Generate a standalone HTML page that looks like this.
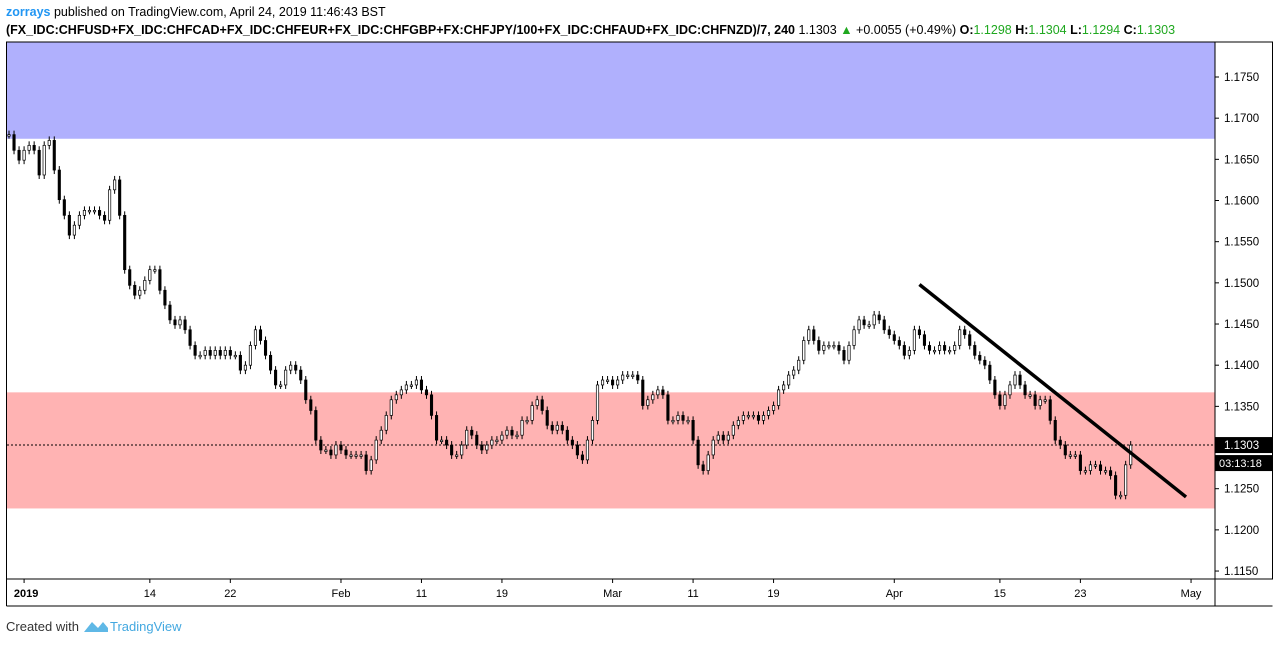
<!DOCTYPE html>
<html><head><meta charset="utf-8"><style>
body{margin:0;background:#fff;width:1273px;height:643px;overflow:hidden;font-family:"Liberation Sans",sans-serif}
</style></head><body>
<svg id="c" width="1273" height="643" xmlns="http://www.w3.org/2000/svg" font-family="Liberation Sans, sans-serif">
<text x="6" y="16" font-size="12.5" fill="#000"><tspan fill="#2196f3" font-weight="bold">zorrays</tspan> published on TradingView.com, April 24, 2019 11:46:43 BST</text>
<text x="6" y="34" font-size="12.5" fill="#000" font-weight="bold">(FX_IDC:CHFUSD+FX_IDC:CHFCAD+FX_IDC:CHFEUR+FX_IDC:CHFGBP+FX:CHFJPY/100+FX_IDC:CHFAUD+FX_IDC:CHFNZD)/7, 240 <tspan font-weight="normal">1.1303 </tspan><tspan fill="#1fa81f">▲</tspan><tspan font-weight="normal"> +0.0055 (+0.49%) </tspan>O:<tspan fill="#1fa81f" font-weight="normal">1.1298</tspan> H:<tspan fill="#1fa81f" font-weight="normal">1.1304</tspan> L:<tspan fill="#1fa81f" font-weight="normal">1.1294</tspan> C:<tspan fill="#1fa81f" font-weight="normal">1.1303</tspan></text>
<g id="plot"></g>
<text x="6" y="631" font-size="13" fill="#333">Created with</text>
<path d="M84 632 L92 622 L98 628 L103 622 L108 628 L108 632 Z" fill="#5fb8e6"/>
<text x="110" y="631" font-size="13" fill="#43a8e0">TradingView</text>
</svg>
<script>
const priceTicks=[1.1150,1.1200,1.1250,1.1300,1.1350,1.1400,1.1450,1.1500,1.1550,1.1600,1.1650,1.1700,1.1750];
const dateLabels=["2019","14","22","Feb","11","19","Mar","11","19","Apr","15","23","May"];
const dateIdx=[3,28,44,66,82,98,120,136,152,176,197,213,235];
const lastPrice=1.1303;
const zoneBlue=[1.1675,1.1800];
const zonePink=[1.1226,1.1367];
const trendStart=[181,1.1498];
const trendEnd=[234,1.1240];
const closes=[1.1680,1.1661,1.1649,1.1661,1.1667,1.1661,1.1631,1.1667,1.1673,1.1637,1.1601,1.1582,1.1558,1.1570,1.1582,1.1588,1.1588,1.1588,1.1582,1.1576,1.1613,1.1625,1.1582,1.1516,1.1497,1.1485,1.1491,1.1503,1.1516,1.1516,1.1491,1.1473,1.1455,1.1449,1.1455,1.1443,1.1424,1.1412,1.1412,1.1418,1.1412,1.1418,1.1412,1.1418,1.1412,1.1412,1.1394,1.1400,1.1424,1.1443,1.1430,1.1412,1.1394,1.1376,1.1376,1.1394,1.1400,1.1394,1.1382,1.1358,1.1345,1.1309,1.1297,1.1297,1.1291,1.1303,1.1297,1.1291,1.1291,1.1291,1.1291,1.1272,1.1285,1.1309,1.1321,1.1339,1.1358,1.1364,1.1370,1.1376,1.1376,1.1382,1.1370,1.1364,1.1339,1.1309,1.1309,1.1303,1.1291,1.1291,1.1303,1.1321,1.1315,1.1303,1.1297,1.1303,1.1309,1.1309,1.1315,1.1321,1.1315,1.1315,1.1333,1.1333,1.1351,1.1358,1.1345,1.1327,1.1321,1.1327,1.1321,1.1309,1.1303,1.1291,1.1285,1.1309,1.1333,1.1376,1.1382,1.1382,1.1376,1.1382,1.1388,1.1388,1.1388,1.1382,1.1351,1.1358,1.1364,1.1370,1.1364,1.1333,1.1333,1.1339,1.1333,1.1333,1.1309,1.1279,1.1272,1.1291,1.1309,1.1315,1.1309,1.1315,1.1327,1.1333,1.1339,1.1339,1.1339,1.1333,1.1339,1.1345,1.1351,1.1370,1.1376,1.1388,1.1394,1.1406,1.1430,1.1443,1.1430,1.1418,1.1424,1.1424,1.1424,1.1418,1.1406,1.1424,1.1443,1.1455,1.1449,1.1449,1.1461,1.1455,1.1443,1.1437,1.1430,1.1424,1.1412,1.1418,1.1443,1.1437,1.1424,1.1418,1.1418,1.1424,1.1418,1.1418,1.1424,1.1443,1.1437,1.1424,1.1412,1.1406,1.1400,1.1382,1.1364,1.1351,1.1364,1.1376,1.1388,1.1376,1.1364,1.1364,1.1351,1.1358,1.1358,1.1333,1.1309,1.1303,1.1291,1.1291,1.1291,1.1272,1.1272,1.1279,1.1279,1.1272,1.1272,1.1266,1.1242,1.1242,1.1279,1.1303];
const NS="http://www.w3.org/2000/svg";
const L=7,R=1215,T=42,B=579;
function yS(p){return 77+(1.175-p)/0.005*41.17;}
function xS(i){return 9+i*5.03;}
const g=document.getElementById('plot');
function mk(t,a,p){const e=document.createElementNS(NS,t);for(const k in a)e.setAttribute(k,a[k]);(p||g).appendChild(e);return e;}
let e;
e=mk('rect',{x:L,y:T,width:R-L,height:yS(zoneBlue[0])-T,fill:'#b0b0fd'});


e=mk('rect',{x:L,y:yS(zonePink[1]),width:R-L,height:yS(zonePink[0])-yS(zonePink[1]),fill:'#ffb3b3'});


e=mk('line',{x1:L,x2:R,y1:yS(lastPrice),y2:yS(lastPrice),stroke:'#000','stroke-dasharray':'2,2','stroke-width':1});


for(let i=0;i<closes.length;i++){
  const o=i?closes[i-1]:closes[i],c=closes[i];
  const y1=yS(Math.max(o,c)),y2=yS(Math.min(o,c));
  e=mk('line',{x1:xS(i),x2:xS(i),y1:y1-4,y2:y2+4,stroke:'#000','stroke-width':1});
  
  
  e=mk('rect',{x:xS(i)-1.2,y:y1,width:2.4,height:Math.max(1.5,y2-y1),fill:c>=o?'#fff':'#000',stroke:'#000','stroke-width':0.7});
  
  
}
e=mk('line',{x1:xS(trendStart[0]),y1:yS(trendStart[1]),x2:xS(trendEnd[0]),y2:yS(trendEnd[1]),stroke:'#000','stroke-width':3.5});


e=mk('rect',{x:6.5,y:T,width:1266,height:B-T,fill:'none',stroke:'#000'});


e=mk('line',{x1:R,x2:R,y1:T,y2:606,stroke:'#000'});


e=mk('line',{x1:6.5,x2:6.5,y1:B,y2:606,stroke:'#000'});


e=mk('line',{x1:6.5,x2:1272.5,y1:606,y2:606,stroke:'#000'});


priceTicks.forEach(p=>{
  const y=yS(p);
  e=mk('line',{x1:R,x2:R+4,y1:y,y2:y,stroke:'#000'});
  
  
  e=mk('text',{x:R+9,y:y+4,'font-size':11.5,fill:'#000'});
  e.textContent=p.toFixed(4);
  
  
});
const ly=yS(lastPrice);
e=mk('rect',{x:R,y:ly-8,width:58,height:16,fill:'#000'});


e=mk('text',{x:R+9,y:ly+4,'font-size':11.5,fill:'#fff'});
e.textContent=lastPrice.toFixed(4);


e=mk('rect',{x:R,y:ly+10,width:58,height:16,fill:'#000'});


e=mk('text',{x:R+4,y:ly+22,'font-size':11,fill:'#fff'});
e.textContent='03:13:18';


dateLabels.forEach((d,k)=>{
  const x=xS(dateIdx[k]);
  e=mk('line',{x1:x,x2:x,y1:B,y2:B+4,stroke:'#000'});
  
  
  e=mk('text',{x:x+(k==0?2:0),y:597,'font-size':11,fill:'#000','text-anchor':'middle','font-weight':k==0?'bold':'normal'});
  e.textContent=d;
  
  
});
</script>
</body></html>
